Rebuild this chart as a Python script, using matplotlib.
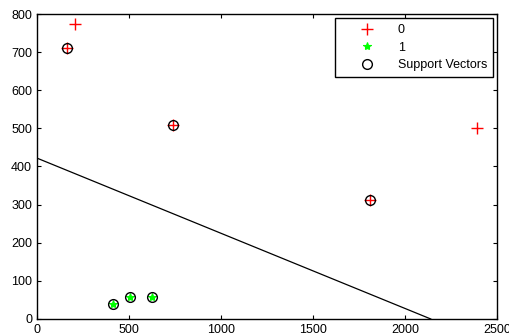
import matplotlib
matplotlib.use('Agg')
from matplotlib import pyplot as plt

plt.rcParams['font.family'] = ['Liberation Sans', 'DejaVu Sans']

# class 0 points
x0 = [206, 163, 739, 1810, 2391]
y0 = [773, 710, 510, 313, 500]
# class 1 points
x1 = [413, 505, 625]
y1 = [39, 58, 58]
# support vectors
sv_x = [163, 739, 1810, 413, 505, 625]
sv_y = [710, 510, 313, 39, 58, 58]
# separating line
line_x = [0, 2140]
line_y = [422, 0]

fig = plt.figure(figsize=(5.1, 3.34), dpi=100)
ax = fig.add_axes([0.0725, 0.045, 0.902, 0.913])
ax.plot(x0, y0, '+', color='red', markersize=8, markeredgewidth=1, label='0')
ax.plot(x1, y1, '*', color='#00ff00', markersize=6, markeredgewidth=0.8, label='1')
ax.plot(sv_x, sv_y, 'o', markerfacecolor='none', markeredgecolor='black',
        markersize=7, markeredgewidth=1, label='Support Vectors')
ax.plot(line_x, line_y, '-', color='black', linewidth=0.9)

ax.set_xlim(0, 2500)
ax.set_ylim(0, 800)
ax.set_xticks([0, 500, 1000, 1500, 2000, 2500])
ax.set_yticks(range(0, 801, 100))
ax.tick_params(direction='in', top=True, right=True, labelsize=9, length=3)
for s in ax.spines.values():
    s.set_linewidth(1)

leg = ax.legend(loc='upper right', fontsize=9, fancybox=False, edgecolor='black',
                framealpha=1, borderaxespad=0.35, handlelength=4.2, handletextpad=0.35,
                labelspacing=0.45, borderpad=0.45)
leg.get_frame().set_linewidth(1)

fig.savefig('out.png', dpi=100)
plt.close(fig)
